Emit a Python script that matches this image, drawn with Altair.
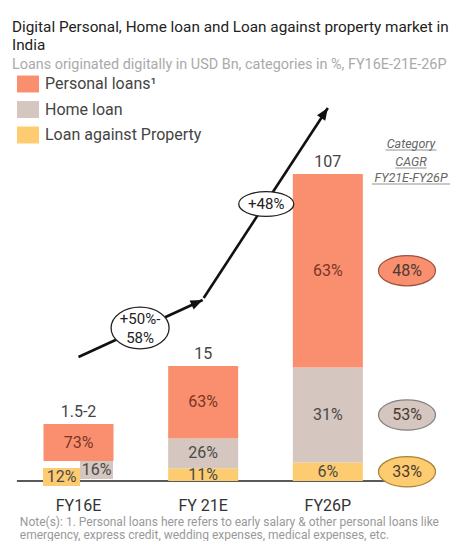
import math
import altair as alt
import pandas as pd

# ---------------- data ----------------
categories = ["FY16E", "FY 21E", "FY26P"]
total_labels = ["1.5-2", "15", "107"]            # USD Bn
bar_heights = [57, 115, 307]                      # drawn bar heights in the reference (infographic, not to scale)
series = ["Personal loans¹", "Home loan", "Loan against Property"]
personal_pct = [73, 63, 63]
home_pct = [16, 26, 31]
lap_pct = [12, 11, 6]
cagr_labels = ["48%", "53%", "33%"]               # category CAGR FY21E-FY26P
growth_labels = ["+50%-\n58%", "+48%"]
cagr_header = ["Category", "CAGR", "FY21E-FY26P"]
title_lines = ["Digital Personal, Home loan and Loan against property market in", "India"]
subtitle = "Loans originated digitally in USD Bn, categories in %, FY16E-21E-26P"
note_lines = ["Note(s): 1. Personal loans here refers to early salary & other personal loans like",
              "emergency, express credit, wedding expenses, medical expenses, etc."]

# ---------------- styles ----------------
FONT = "Roboto"
fill_colors = ["#F98F6F", "#D5C6BF", "#FDCB70"]
stroke_colors = ["#9a5340", "#808080", "#a98233"]
PX_PER_X = 127.5
X_DOMAIN = [-0.5255, -0.5255 + 449 / PX_PER_X]
Y_DOMAIN = [-60, 401]
SMALL_STRIP = 20          # drawn height of the side-by-side strip under the FY16E bar
xs = alt.Scale(domain=X_DOMAIN, nice=False, zero=False)
ys = alt.Scale(domain=Y_DOMAIN, nice=False, zero=False)
color_scale = alt.Scale(domain=series, range=fill_colors)


def X(f):
    return alt.X(f, type="quantitative", scale=xs, axis=None)


def Y(f):
    return alt.Y(f, type="quantitative", scale=ys, axis=None)


# ---------------- segments ----------------
rows = []
for i, cat in enumerate(categories):
    pcts = {series[2]: lap_pct[i], series[1]: home_pct[i], series[0]: personal_pct[i]}
    tot = sum(pcts.values())
    h = bar_heights[i]
    if i == 0:
        # smallest bar: LAP and home-loan shares shown side by side at the bottom
        rows.append(dict(idx=i, series=series[2], y0=-5, y1=SMALL_STRIP - 7, pct=lap_pct[i], part="left"))
        rows.append(dict(idx=i, series=series[1], y0=2, y1=SMALL_STRIP, pct=home_pct[i], part="right"))
        rows.append(dict(idx=i, series=series[0], y0=SMALL_STRIP, y1=h, pct=personal_pct[i], part="full"))
    else:
        y = 0
        for s in [series[2], series[1], series[0]]:
            hh = h * pcts[s] / tot
            rows.append(dict(idx=i, series=s, y0=y, y1=y + hh, pct=pcts[s], part="full"))
            y += hh
seg = pd.DataFrame(rows)
seg["mid"] = (seg.y0 + seg.y1) / 2
seg["label"] = seg.pct.astype(str) + "%"
seg["is_pers"] = seg.series == series[0]

totals = pd.DataFrame({"idx": range(3), "h": bar_heights, "label": total_labels})
cats = pd.DataFrame({"idx": range(3), "cat": categories, "y": [-30] * 3})

full = seg[seg.part == "full"]
left = seg[seg.part == "left"]
right = seg[seg.part == "right"]

bars_full = alt.Chart(full).mark_bar(size=70).encode(
    x=X("idx"),
    y=Y("y0"), y2="y1",
    color=alt.Color("series:N", scale=color_scale,
                    legend=alt.Legend(title=None, orient="none", legendX=9, legendY=-7,
                                      symbolType="M-1,-0.77H1V0.77H-1Z", symbolSize=484,
                                      symbolStrokeWidth=0, labelFont=FONT, labelFontSize=16,
                                      labelColor="#444", labelOffset=6, rowPadding=5.5, padding=0)),
)
bars_left = alt.Chart(left).mark_bar(size=37, xOffset=-17).encode(
    x=X("idx"), y=Y("y0"), y2="y1", color=alt.Color("series:N", scale=color_scale))
bars_right = alt.Chart(right).mark_bar(size=33, xOffset=18).encode(
    x=X("idx"), y=Y("y0"), y2="y1", color=alt.Color("series:N", scale=color_scale))

TXT = dict(font=FONT, fontSize=16)
lab_pers = alt.Chart(full[full.is_pers]).mark_text(color="#7b3526", **TXT).encode(
    x=X("idx"), y=Y("mid"), text="label:N")
lab_other = alt.Chart(full[~full.is_pers]).mark_text(color="#4a4a4a", **TXT).encode(
    x=X("idx"), y=Y("mid"), text="label:N")
lab_left = alt.Chart(left).mark_text(color="#4a4a4a", dx=-17, **TXT).encode(
    x=X("idx"), y=Y("mid"), text="label:N")
lab_right = alt.Chart(right).mark_text(color="#4a4a4a", dx=18, **TXT).encode(
    x=X("idx"), y=Y("mid"), text="label:N")

tot_text = alt.Chart(totals).mark_text(baseline="alphabetic", dy=-7, color="#444", **TXT).encode(
    x=X("idx"), y=Y("h"), text="label:N")
cat_text = alt.Chart(cats).mark_text(baseline="alphabetic", color="#333", font=FONT, fontSize=16).encode(
    x=X("idx"), y=Y("y"), text="cat:N")

# baseline rule
base = alt.Chart(pd.DataFrame({"a": [-0.494], "b": [2.6], "z": [0]})).mark_rule(
    color="#222", strokeWidth=1.5).encode(x=X("a"), x2="b", y=Y("z"))

# ---------------- growth arrow ----------------
arrow_pts = pd.DataFrame({
    "seg": [0, 0, 1, 1],
    "ord": [0, 1, 0, 1],
    "x": [0.0, 0.996, 1.004, 2.0],
    "y": [124, 181, 183, 373],
})
arrow_line = alt.Chart(arrow_pts).mark_line(color="#111", strokeWidth=2.6, strokeCap="butt").encode(
    x=X("x"), y=Y("y"), detail="seg:N", order="ord:Q")
heads = []
for s in [0, 1]:
    p = arrow_pts[arrow_pts.seg == s].sort_values("ord")
    x1, x2 = p.x.iloc[0], p.x.iloc[1]
    y1, y2 = p.y.iloc[0], p.y.iloc[1]
    heads.append(dict(x=x2, y=y2, ang=math.degrees(math.atan2((x2 - x1) * PX_PER_X, (y2 - y1)))))
heads = pd.DataFrame(heads)
arrow_heads = alt.Chart(heads).mark_point(shape="M0,0L0.45,1.1L-0.45,1.1Z", filled=True, opacity=1,
                                           color="#111", size=484).encode(
    x=X("x"), y=Y("y"), angle=alt.Angle("ang:Q", scale=None))

g1 = pd.DataFrame({"x": [0.494], "y": [153], "t": [growth_labels[0]]})
g2 = pd.DataFrame({"x": [1.506], "y": [277], "t": [growth_labels[1]]})
ell1 = alt.Chart(g1).mark_point(shape="M-1,0A1,0.72,0,1,0,1,0A1,0.72,0,1,0,-1,0Z", filled=True,
                                color="white", opacity=1, stroke="#222", strokeWidth=1.3,
                                size=58 * 58).encode(x=X("x"), y=Y("y"))
ell1_t = alt.Chart(g1).mark_text(font=FONT, fontSize=15, lineHeight=19, color="#222", dy=-9,
                                 lineBreak="\n").encode(x=X("x"), y=Y("y"), text="t:N")
ell2 = alt.Chart(g2).mark_point(shape="M-1,0A1,0.45,0,1,0,1,0A1,0.45,0,1,0,-1,0Z", filled=True,
                                color="white", opacity=1, stroke="#222", strokeWidth=1.3,
                                size=55 * 55).encode(x=X("x"), y=Y("y"))
ell2_t = alt.Chart(g2).mark_text(font=FONT, fontSize=15, color="#222").encode(
    x=X("x"), y=Y("y"), text="t:N")

# ---------------- CAGR column ----------------
last = seg[seg.idx == 2].copy()
last["cagr"] = [cagr_labels[series.index(s)] for s in last.series]
last["cx"] = 2.635
cagr_layers = []
for s, fc, sc in zip(series, fill_colors, stroke_colors):
    d = last[last.series == s]
    cagr_layers.append(alt.Chart(d).mark_point(
        shape="M-1,0A1,0.53,0,1,0,1,0A1,0.53,0,1,0,-1,0Z", filled=True, color=fc, opacity=1,
        stroke=sc, strokeWidth=1.2, size=57 * 57).encode(x=X("cx"), y=Y("mid")))
cagr_txt = alt.Chart(last).mark_text(font=FONT, fontSize=16, color="#4a3a33").encode(
    x=X("cx"), y=Y("mid"), text="cagr:N")

hdr = pd.DataFrame({"t": cagr_header, "y": [333, 315, 299], "w": [52, 32, 80]})
hdr["x"] = 2.667
hdr["xa"] = hdr.x - hdr.w / 2 / PX_PER_X
hdr["xb"] = hdr.x + hdr.w / 2 / PX_PER_X
hdr["yu"] = hdr.y - 2
hdr_txt = alt.Chart(hdr).mark_text(font=FONT, fontSize=12.5, fontStyle="italic", color="#666",
                                   baseline="alphabetic").encode(x=X("x"), y=Y("y"), text="t:N")
hdr_ul = alt.Chart(hdr).mark_rule(color="#777", strokeWidth=0.8).encode(x=X("xa"), x2="xb", y=Y("yu"))

# ---------------- note ----------------
notes = pd.DataFrame({"t": note_lines, "y": [-45, -58]})
notes["x"] = X_DOMAIN[0] + 7 / PX_PER_X
note_txt = alt.Chart(notes).mark_text(font=FONT, fontSize=12, color="#999", align="left",
                                      baseline="alphabetic").encode(x=X("x"), y=Y("y"), text="t:N")

chart = alt.layer(
    base, bars_full, bars_left, bars_right, lab_pers, lab_other, lab_left, lab_right, tot_text, cat_text,
    arrow_line, arrow_heads, ell1, ell1_t, ell2, ell2_t, *cagr_layers, cagr_txt, hdr_txt, hdr_ul, note_txt,
).properties(
    width=449, height=461,
    autosize=alt.AutoSizeParams(type="none"),
    padding={"top": 72, "left": 0, "right": 0, "bottom": 0},
    title=alt.Title(title_lines, subtitle=subtitle, anchor="start", frame="group", dx=4, offset=2,
                    font=FONT, fontSize=15.3, fontWeight="normal", color="#222", lineHeight=18,
                    subtitleFont=FONT, subtitleFontSize=14.4, subtitleColor="#aaa", subtitlePadding=4),
).configure_view(stroke=None)

chart.save("out.html", embed_options={"renderer": "svg", "actions": False})
